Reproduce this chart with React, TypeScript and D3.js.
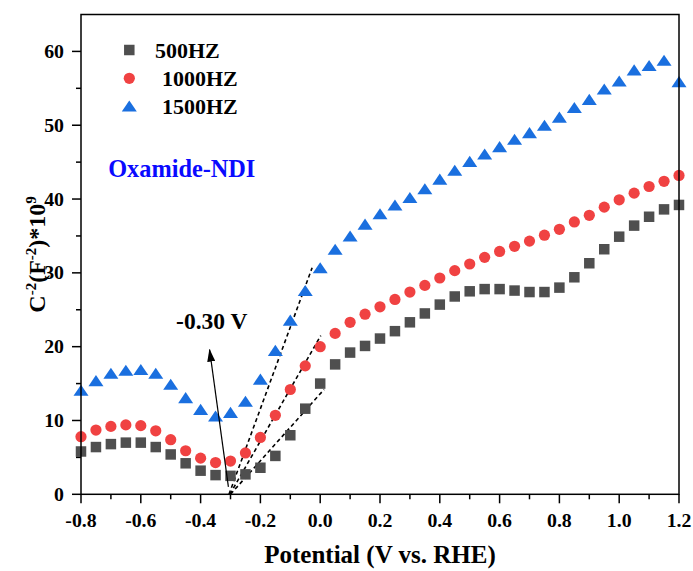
import React from 'react';
import * as d3 from 'd3';

const potential = [
  -0.8, -0.75, -0.7, -0.65, -0.6, -0.55, -0.5, -0.45, -0.4, -0.35, -0.3,
  -0.25, -0.2, -0.15, -0.1, -0.05, 0.0,
  0.05, 0.1, 0.15, 0.2, 0.25, 0.3, 0.35, 0.4, 0.45, 0.5,
  0.55, 0.6, 0.65, 0.7, 0.75, 0.8, 0.85, 0.9, 0.95, 1.0,
  1.05, 1.1, 1.15, 1.2,
];
const c500 = [
  5.8, 6.4, 6.8, 7.0, 7.0, 6.4, 5.4, 4.2, 3.2, 2.6, 2.5,
  2.7, 3.6, 5.2, 8.0, 11.6, 15.0,
  17.6, 19.2, 20.1, 21.1, 22.1, 23.3, 24.5, 25.7, 26.8, 27.5,
  27.8, 27.8, 27.6, 27.4, 27.4, 28.0, 29.4, 31.3, 33.2, 34.9,
  36.4, 37.6, 38.6, 39.2,
];
const c1000 = [
  7.8, 8.7, 9.2, 9.4, 9.3, 8.6, 7.4, 5.9, 4.9, 4.3, 4.5,
  5.6, 7.7, 10.7, 14.2, 17.4, 20.0,
  21.8, 23.3, 24.4, 25.4, 26.4, 27.4, 28.3, 29.3, 30.3, 31.2,
  32.1, 32.9, 33.6, 34.3, 35.1, 35.9, 36.9, 37.8, 38.9, 39.9,
  40.8, 41.7, 42.4, 43.2,
];
const c1500 = [
  14.1, 15.4, 16.4, 16.8, 16.9, 16.4, 14.9, 13.1, 11.5, 10.6, 11.1,
  12.6, 15.6, 19.5, 23.6, 27.6, 30.7,
  33.2, 35.0, 36.6, 38.0, 39.2, 40.2, 41.4, 42.7, 43.9, 45.1,
  46.1, 47.1, 48.1, 49.0, 50.0, 51.1, 52.4, 53.5, 54.9, 56.0,
  57.5, 58.1, 58.8, 55.9,
];
const seriesNames = ['500HZ', '1000HZ', '1500HZ'];
const xTicks = [-0.8, -0.6, -0.4, -0.2, 0.0, 0.2, 0.4, 0.6, 0.8, 1.0, 1.2];
const xMinorTicks = [-0.7, -0.5, -0.3, -0.1, 0.1, 0.3, 0.5, 0.7, 0.9, 1.1];
const yTicks = [0, 10, 20, 30, 40, 50, 60];
const yMinorTicks = [5, 15, 25, 35, 45, 55];
// tangent (extrapolation) lines: [x1, y1, x2, y2]
const fitLines = [
  [-0.305, 0, -0.027, 30.7],
  [-0.302, 0, 0.002, 21.5],
  [-0.3, 0, 0.013, 14.2],
];
const arrowLine = [-0.307, 1.0, -0.37, 19.6];
const annotationText = '-0.30 V';
const annotationPos = [-0.482, 22.4];
const sampleName = 'Oxamide-NDI';
const samplePos = [-0.709, 43.0];

const W = 693;
const H = 571;
const FONT = "'Liberation Serif', 'Times New Roman', serif";
const colors = ['#4f4f4f', '#f04242', '#1a6fdf'];

const triangleType = {
  draw(ctx: any, size: number) {
    const w = Math.sqrt(size);
    const h = w * 0.74;
    ctx.moveTo(0, -h / 2);
    ctx.lineTo(w / 2, h / 2);
    ctx.lineTo(-w / 2, h / 2);
    ctx.closePath();
  },
};

const symbols = [
  d3.symbol().type(d3.symbolSquare).size(10.5 * 10.5)(),
  d3.symbol().type(d3.symbolCircle).size(Math.PI * 5.6 * 5.6)(),
  d3.symbol().type(triangleType as any).size(15 * 15)(),
];

export default function App() {
  const x = d3.scaleLinear().domain([-0.8, 1.2]).range([81, 679]);
  const y = d3.scaleLinear().domain([0, 65]).range([494.3, 14.5]);
  const series = [c500, c1000, c1500];
  const [x0, x1] = x.range();
  const [yb, yt] = y.range();

  const legendY = [50, 78.3, 106];
  const legendTextX = [155, 162, 162];

  return (
    <svg
      width={W}
      height={H}
      style={{ position: 'absolute', left: 0, top: 0, background: '#fff' }}
      fontFamily={FONT}
      fontWeight="bold"
    >
      <defs>
        <marker
          id="arrowhead"
          markerUnits="userSpaceOnUse"
          markerWidth={13}
          markerHeight={8}
          viewBox="0 0 13 8"
          refX={12}
          refY={4}
          orient="auto"
        >
          <path d="M0,0 L13,4 L0,8 Z" fill="#000" />
        </marker>
      </defs>

      {/* fit lines */}
      {fitLines.map((l, i) => (
        <line
          key={'fit' + i}
          x1={x(l[0])}
          y1={y(l[1])}
          x2={x(l[2])}
          y2={y(l[3])}
          stroke="#000"
          strokeWidth={1.6}
          strokeDasharray="4,3"
        />
      ))}

      {/* data */}
      {series.map((vals, si) => (
        <g key={'s' + si} fill={colors[si]}>
          {vals.map((v, i) => (
            <path
              key={i}
              d={symbols[si] as string}
              transform={`translate(${x(potential[i])},${y(v)})`}
            />
          ))}
        </g>
      ))}

      {/* arrow */}
      <line
        x1={x(arrowLine[0])}
        y1={y(arrowLine[1])}
        x2={x(arrowLine[2])}
        y2={y(arrowLine[3])}
        stroke="#000"
        strokeWidth={1.2}
        markerEnd="url(#arrowhead)"
      />
      <text x={x(annotationPos[0])} y={y(annotationPos[1])} fontSize={23.5} fill="#000">
        {annotationText}
      </text>

      <text x={x(samplePos[0])} y={y(samplePos[1])} fontSize={24.3} fill="#0a0aff">
        {sampleName}
      </text>

      {/* frame */}
      <rect
        x={x0}
        y={yt}
        width={x1 - x0}
        height={yb - yt}
        fill="none"
        stroke="#000"
        strokeWidth={1.5}
      />

      {/* x ticks */}
      {xTicks.map((t) => (
        <g key={'xt' + t}>
          <line x1={x(t)} x2={x(t)} y1={yb} y2={yb + 9} stroke="#000" strokeWidth={1.5} />
          <text x={x(t)} y={527} textAnchor="middle" fontSize={19.8} fill="#000">
            {t.toFixed(1)}
          </text>
        </g>
      ))}
      {xMinorTicks.map((t) => (
        <line key={'xm' + t} x1={x(t)} x2={x(t)} y1={yb} y2={yb + 5} stroke="#000" strokeWidth={1.5} />
      ))}

      {/* y ticks */}
      {yTicks.map((t) => (
        <g key={'yt' + t}>
          <line x1={x0 - 9} x2={x0} y1={y(t)} y2={y(t)} stroke="#000" strokeWidth={1.5} />
          <text x={64} y={y(t) + 6.5} textAnchor="end" fontSize={19.8} fill="#000">
            {t}
          </text>
        </g>
      ))}
      {yMinorTicks.map((t) => (
        <line key={'ym' + t} x1={x0 - 5} x2={x0} y1={y(t)} y2={y(t)} stroke="#000" strokeWidth={1.5} />
      ))}

      {/* axis titles */}
      <text x={(x0 + x1) / 2} y={563} textAnchor="middle" fontSize={25} fill="#000">
        Potential (V vs. RHE)
      </text>
      <text
        transform={`translate(45,${(yb + yt) / 2}) rotate(-90)`}
        textAnchor="middle"
        fontSize={24}
        fill="#000"
      >
        C
        <tspan dy={-9} fontSize={15}>-2</tspan>
        <tspan dy={9}>(F</tspan>
        <tspan dy={-9} fontSize={15}>-2</tspan>
        <tspan dy={9}>)*10</tspan>
        <tspan dy={-9} fontSize={15}>9</tspan>
      </text>

      {/* legend */}
      {seriesNames.map((n, i) => (
        <g key={'lg' + i}>
          <path d={symbols[i] as string} transform={`translate(129.3,${legendY[i]})`} fill={colors[i]} />
          <text x={legendTextX[i]} y={legendY[i] + 8} fontSize={22} fill="#000">
            {n}
          </text>
        </g>
      ))}
    </svg>
  );
}
